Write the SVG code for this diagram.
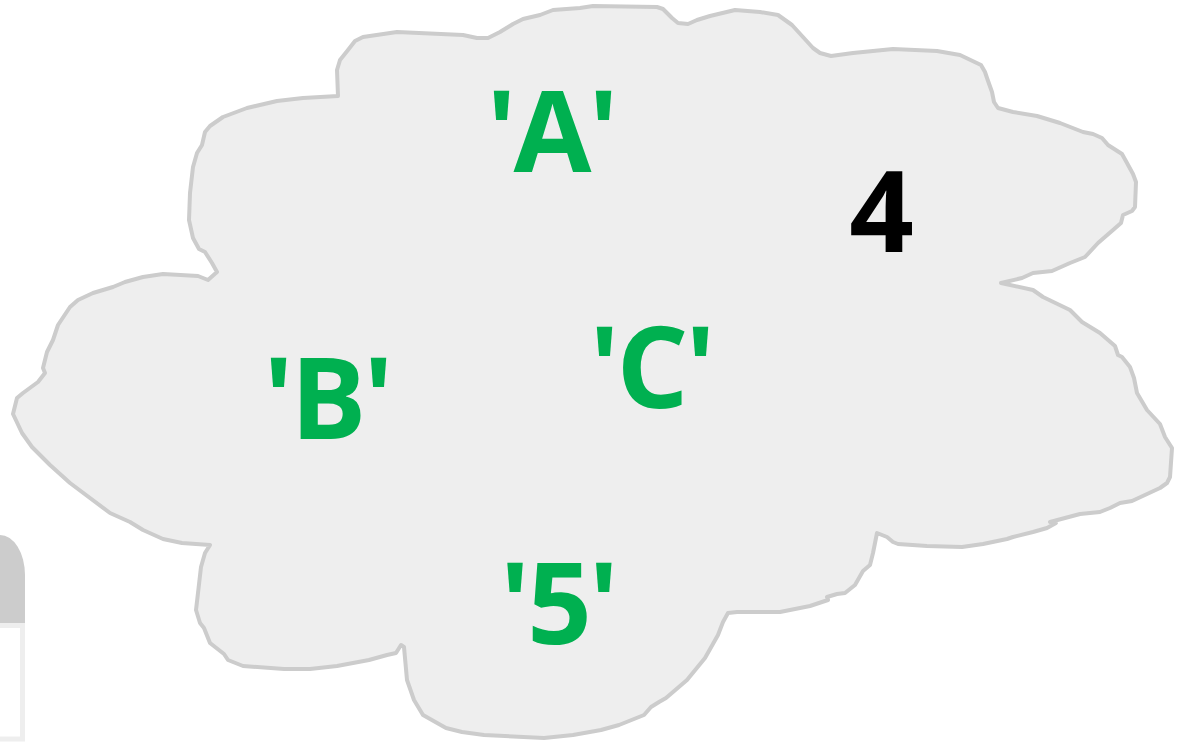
<svg xmlns="http://www.w3.org/2000/svg" width="1186" height="743" viewBox="0 0 1186 743">
<style>
.cloud{fill:#eeeeee;stroke:#cccccc;stroke-width:4;stroke-linejoin:round}
.lbl{font-family:"Open Sans","Liberation Sans",sans-serif;font-weight:bold;font-size:113px;text-anchor:middle;letter-spacing:-3px}
.g{fill:#00b050}
.k{fill:#000000}
</style>
<rect width="1186" height="743" fill="#ffffff"/>
<g id="partial-box">
<path d="M-10,623 L-10,535 L0,535 A25,40 0 0 1 25,575 L25,623 Z" fill="#cccccc"/>
<rect x="-10" y="625.5" width="32.5" height="113.5" fill="#ffffff" stroke="#eeeeee" stroke-width="5"/>
</g>
<g id="cloud">
<path class="cloud" d="M338,96 L337,70 L340,60 L348,50 L355,41 L363,37 L397,32 L463,35 L477,38 L488,38 L500,32 L513,24 L523,19 L540,15 L553,10 L580,8 L593,6 L657,7 L663,9 L672,18 L678,23 L688,24 L697,20 L710,16 L735,10 L760,12 L778,15 L792,25 L813,48 L820,53 L831,56 L853,53 L893,49 L937,51 L960,55 L981,65 L985,72 L987,78 L992,92 L994,102 L998,108 L1013,112 L1037,116 L1060,123 L1083,132 L1093,134 L1102,138 L1108,145 L1122,154 L1127,163 L1133,174 L1136,182 L1135,207 L1132,211 L1123,215 L1121,223 L1113,230 L1098,243 L1085,257 L1070,263 L1052,271 L1033,273 L1022,278 L1001,283 L1033,290 L1043,297 L1070,310 L1082,322 L1100,333 L1115,346 L1118,355 L1122,357 L1130,367 L1134,378 L1137,393 L1147,410 L1160,424 L1165,437 L1172,448 L1170,477 L1167,483 L1160,488 L1132,501 L1120,503 L1110,508 L1100,512 L1080,514 L1050,522 L1056,523 L1047,528 L1033,532 L1013,537 L1007,539 L983,544 L962,547 L927,546 L898,544 L893,542 L887,537 L877,533 L873,553 L870,565 L863,571 L855,585 L845,593 L837,594 L827,597 L828,600 L810,606 L780,612 L737,612 L728,613 L723,622 L718,635 L705,658 L687,680 L666,698 L659,702 L651,707 L644,715 L619,725 L601,730 L573,735 L544,738 L484,735 L462,732 L446,728 L423,715 L414,700 L407,680 L404,647 L401,645 L396,653 L387,655 L369,660 L337,666 L310,669 L284,669 L243,666 L228,660 L224,654 L210,643 L204,628 L200,623 L196,610 L198,593 L201,567 L205,553 L210,545 L182,543 L163,539 L143,530 L130,522 L110,513 L70,483 L50,465 L32,447 L22,433 L13,414 L17,398 L23,393 L38,382 L45,373 L43,368 L47,352 L53,340 L58,325 L70,307 L78,300 L93,293 L113,287 L125,282 L143,277 L163,274 L198,276 L208,280 L217,272 L212,263 L205,252 L199,249 L193,238 L189,220 L190,193 L193,167 L197,153 L202,145 L205,132 L210,126 L223,117 L247,108 L277,101 L303,98 Z"/>
</g>
<g id="label-A"><text class="lbl g" x="551" y="172">'A'</text></g>
<g id="label-4"><text class="lbl k" x="880" y="252">4</text></g>
<g id="label-B"><text class="lbl g" x="327" y="439">'B'</text></g>
<g id="label-C"><text class="lbl g" x="651" y="408">'C'</text></g>
<g id="label-5"><text class="lbl g" x="558" y="644">'5'</text></g>
<g id="connectors"/>
</svg>
